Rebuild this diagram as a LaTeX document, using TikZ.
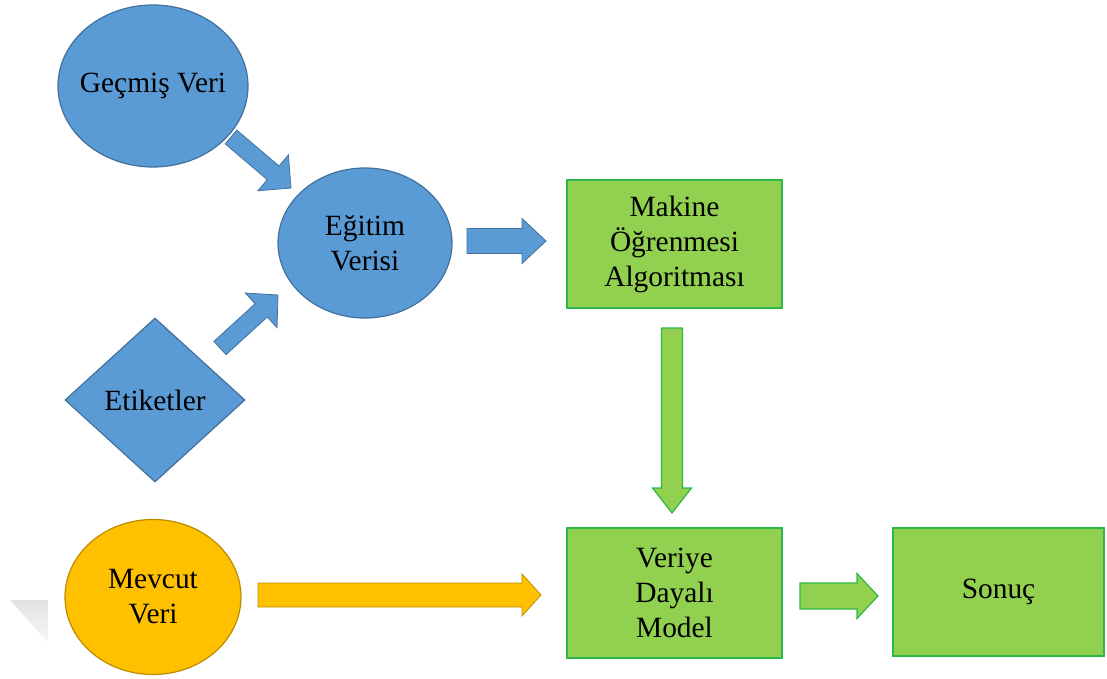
\documentclass[tikz,border=0pt]{standalone}
\usepackage{fontspec}
\setmainfont{Liberation Serif}
\usetikzlibrary{shapes.geometric, calc, positioning}
\definecolor{boxblue}{HTML}{5B9BD5}
\definecolor{edgeblue}{HTML}{41719C}
\definecolor{boxgreen}{HTML}{92D050}
\definecolor{edgegreen}{HTML}{2EB84A}
\definecolor{boxorange}{HTML}{FFC000}
\definecolor{edgeorange}{HTML}{BC8C00}

% block arrow: style, tail, tip, half shaft, half head, head length
\newcommand{\blockarrow}[6]{%
  \coordinate (neck) at ($(#3)!#6!(#2)$);
  \filldraw[#1] ($(#2)!#4!90:(#3)$) -- ($(neck)!#4!-90:(#2)$) -- ($(neck)!#5!-90:(#2)$) -- (#3)
    -- ($(neck)!#5!90:(#2)$) -- ($(neck)!#4!90:(#2)$) -- ($(#2)!#4!-90:(#3)$) -- cycle;
}

\begin{document}
\begin{tikzpicture}[x=0.5pt, y=-0.5pt, font=\fontsize{14.7}{17.5}\selectfont,
    bluenode/.style={fill=boxblue, draw=edgeblue, line width=0.6pt, inner sep=0pt, align=center},
    greenbox/.style={rectangle, fill=boxgreen, draw=edgegreen, line width=0.8pt, inner sep=0pt,
      minimum width=107.5pt, minimum height=64pt, align=center},
    bluearrow/.style={fill=boxblue, draw=edgeblue, line width=0.4pt},
    greenarrow/.style={fill=boxgreen, draw=edgegreen, line width=0.6pt},
    orangearrow/.style={fill=boxorange, draw=edgeorange, line width=0.4pt}]
  \useasboundingbox (0,0) rectangle (1107,679);

  \shade[top color=black!11, bottom color=black!3] (10,600) -- (48,600) -- (48,643) -- cycle;

  \node[bluenode, ellipse, minimum width=95pt, minimum height=81pt] (gecmis) at (153,86) {\makebox[0pt]{Geçmiş Veri}};
  \node[bluenode, ellipse, minimum width=87pt, minimum height=75pt] (egitim) at (365,243) {Eğitim\\Verisi};
  \node[bluenode, diamond, minimum width=90pt, minimum height=82pt] (etiket) at (155,400) {\makebox[0pt]{Etiketler}};
  \node[ellipse, fill=boxorange, draw=edgeorange, line width=0.6pt, inner sep=0pt, align=center,
    minimum width=88pt, minimum height=77.5pt] (mevcut) at (153,597) {Mevcut\\Veri};

  \node[greenbox] (algo) at (674.5,244) {Makine\\Öğrenmesi\\Algoritması};
  \node[greenbox, minimum height=65pt] (model) at (674.5,593) {Veriye\\Dayalı\\Model};
  \node[greenbox, minimum width=105.5pt] (sonuc) at (998.5,592) {Sonuç};

  % arrows
  \coordinate (t1) at (231,137); \coordinate (h1) at (291,188);
  \coordinate (t2) at (220,348); \coordinate (h2) at (278,295);
  \coordinate (t3) at (467,241); \coordinate (h3) at (546,241);
  \coordinate (t4) at (672,328); \coordinate (h4) at (672,513);
  \coordinate (t5) at (258,595); \coordinate (h5) at (541,595);
  \coordinate (t6) at (800,596); \coordinate (h6) at (878,596);

  \blockarrow{bluearrow}{t1}{h1}{4.5pt}{11.75pt}{11.7pt}
  \blockarrow{bluearrow}{t2}{h2}{4.5pt}{11.75pt}{11.4pt}
  \blockarrow{bluearrow}{t3}{h3}{6.25pt}{11.25pt}{12pt}
  \blockarrow{greenarrow}{t4}{h4}{5.25pt}{9.75pt}{12.5pt}
  \blockarrow{orangearrow}{t5}{h5}{6pt}{10.5pt}{9.5pt}
  \blockarrow{greenarrow}{t6}{h6}{6.5pt}{11.25pt}{10.5pt}
\end{tikzpicture}
\end{document}
